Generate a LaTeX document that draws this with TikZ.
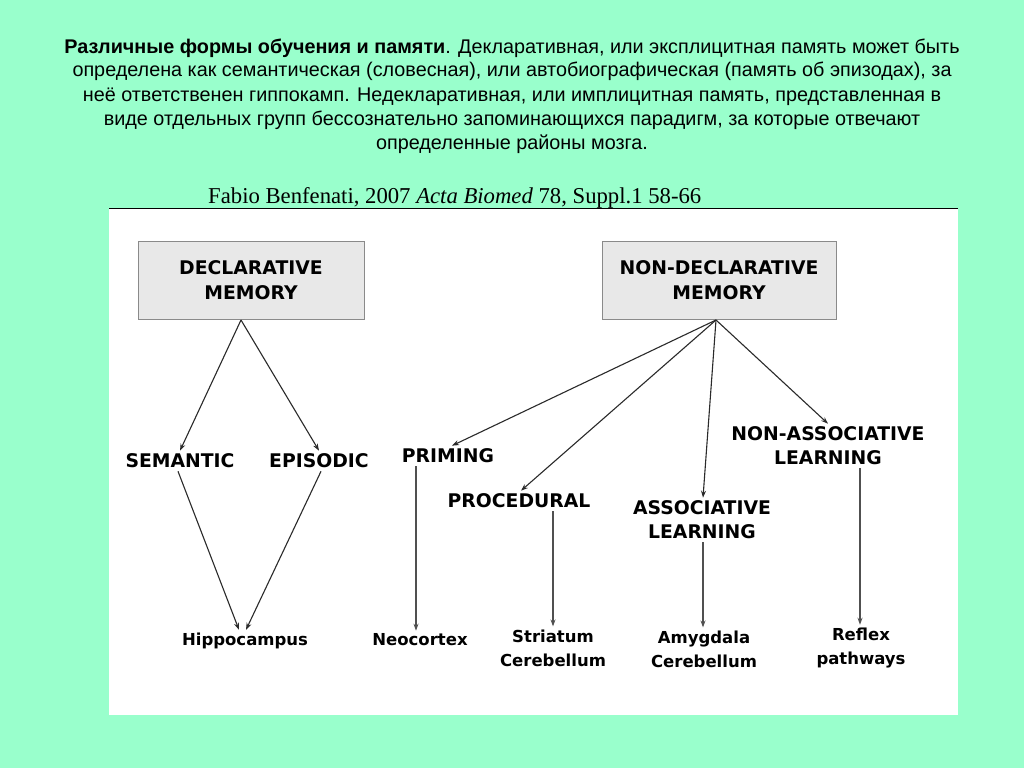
\documentclass[tikz,border=0pt]{standalone}
\usepackage{fontspec}
\setmainfont{Liberation Sans}
\newfontfamily\timesfont{Liberation Serif}
\newfontfamily\diagfont{DejaVu Sans}
\usetikzlibrary{arrows.meta}
\definecolor{mint}{HTML}{99FFCC}
\definecolor{boxfill}{HTML}{E8E8E8}
\definecolor{boxline}{HTML}{8A8A8A}
\definecolor{lnk}{HTML}{2A2A2A}
\definecolor{vlnk}{HTML}{505050}
\tikzset{
  titleline/.style={anchor=base, inner sep=0pt, font=\fontsize{19.8}{24}\selectfont},
  membox/.style={draw=boxline, line width=1pt, fill=boxfill, minimum width=226pt, minimum height=78pt, align=center, inner sep=0pt, font=\diagfont\bfseries\fontsize{18.8}{25}\selectfont},
  lbl/.style={align=center, inner sep=3pt, font=\diagfont\bfseries\fontsize{18.8}{24}\selectfont},
  brain/.style={align=center, inner sep=3pt, font=\diagfont\bfseries\fontsize{16.5}{24}\selectfont},
  arr/.style={draw=lnk, line width=1.1pt, -{Stealth[length=7pt,width=5pt]}},
  varr/.style={draw=vlnk, line width=1.2pt, -{Stealth[length=7pt,width=5pt]}}
}
\begin{document}
\begin{tikzpicture}[x=1pt,y=-1pt]
\useasboundingbox (0,0) rectangle (1024,768);
\fill[mint] (0,0) rectangle (1024,768);
\fill[white] (109,208) rectangle (958,715);
\draw[line width=0.8pt] (109,208) -- (958,208);

\node[titleline] (t1) at (512,53) {\textbf{Различные формы обучения и памяти}. Декларативная, или эксплицитная память может быть};
\node[titleline] (t2) at (512,77) {определена как семантическая (словесная), или автобиографическая (память об эпизодах), за};
\node[titleline] (t3) at (512,101) {неё ответственен гиппокамп. Недекларативная, или имплицитная память, представленная в};
\node[titleline] (t4) at (512,125) {виде отдельных групп бессознательно запоминающихся парадигм, за которые отвечают};
\node[titleline] (t5) at (512,149) {определенные районы мозга.};

\node[anchor=base west, inner sep=0pt, font=\timesfont\fontsize{22.7}{24}\selectfont] (cite) at (208,203) {Fabio Benfenati, 2007 \textit{Acta Biomed} 78, Suppl.1 58-66};

\node[membox] (dm) at (251,280) {DECLARATIVE\\MEMORY};
\node[membox, minimum width=234pt] (nd) at (719,280) {NON-DECLARATIVE\\MEMORY};

\node[lbl] (sem) at (180,461) {SEMANTIC};
\node[lbl] (epi) at (319,461) {EPISODIC};
\node[lbl] (prim) at (448,456) {PRIMING};
\node[lbl] (proc) at (519,501) {PROCEDURAL};
\node[lbl] (assoc) at (702,520) {ASSOCIATIVE\\LEARNING};
\node[lbl] (nona) at (828,446) {NON-ASSOCIATIVE\\LEARNING};

\node[brain] (hip) at (245,641) {Hippocampus};
\node[brain] (neo) at (420,640) {Neocortex};
\node[brain] (str) at (553,648) {Striatum\\Cerebellum};
\node[brain] (amy) at (704,649) {Amygdala\\Cerebellum};
\node[brain] (refl) at (861,648) {Reflex\\pathways};

\coordinate (dmb) at (241,320);
\coordinate (ndb) at (716,320);
\draw[arr] (dmb) -- (sem.north);
\draw[arr] (dmb) -- (epi.north);
\draw[arr] ([xshift=-2pt]sem.south) -- ([xshift=-6pt]hip.north);
\draw[arr] ([xshift=2pt]epi.south) -- ([xshift=1pt]hip.north);

\draw[arr] (ndb) -- ([xshift=4pt]prim.north);
\draw[arr] (ndb) -- ([xshift=2pt]proc.north);
\draw[arr] (ndb) -- ([xshift=1pt]assoc.north);
\draw[arr] (ndb) -- (nona.north);

\draw[varr] (prim.south -| neo.north) ++(-4,0) -- ([xshift=-4pt]neo.north);
\draw[varr] (proc.south -| str.north) -- (str.north);
\draw[varr] (assoc.south -| amy.north) ++(-1,0) -- ([xshift=-1pt]amy.north);
\draw[varr] (nona.south -| refl.north) ++(-1,0) -- ([xshift=-1pt]refl.north);
\end{tikzpicture}
\end{document}
